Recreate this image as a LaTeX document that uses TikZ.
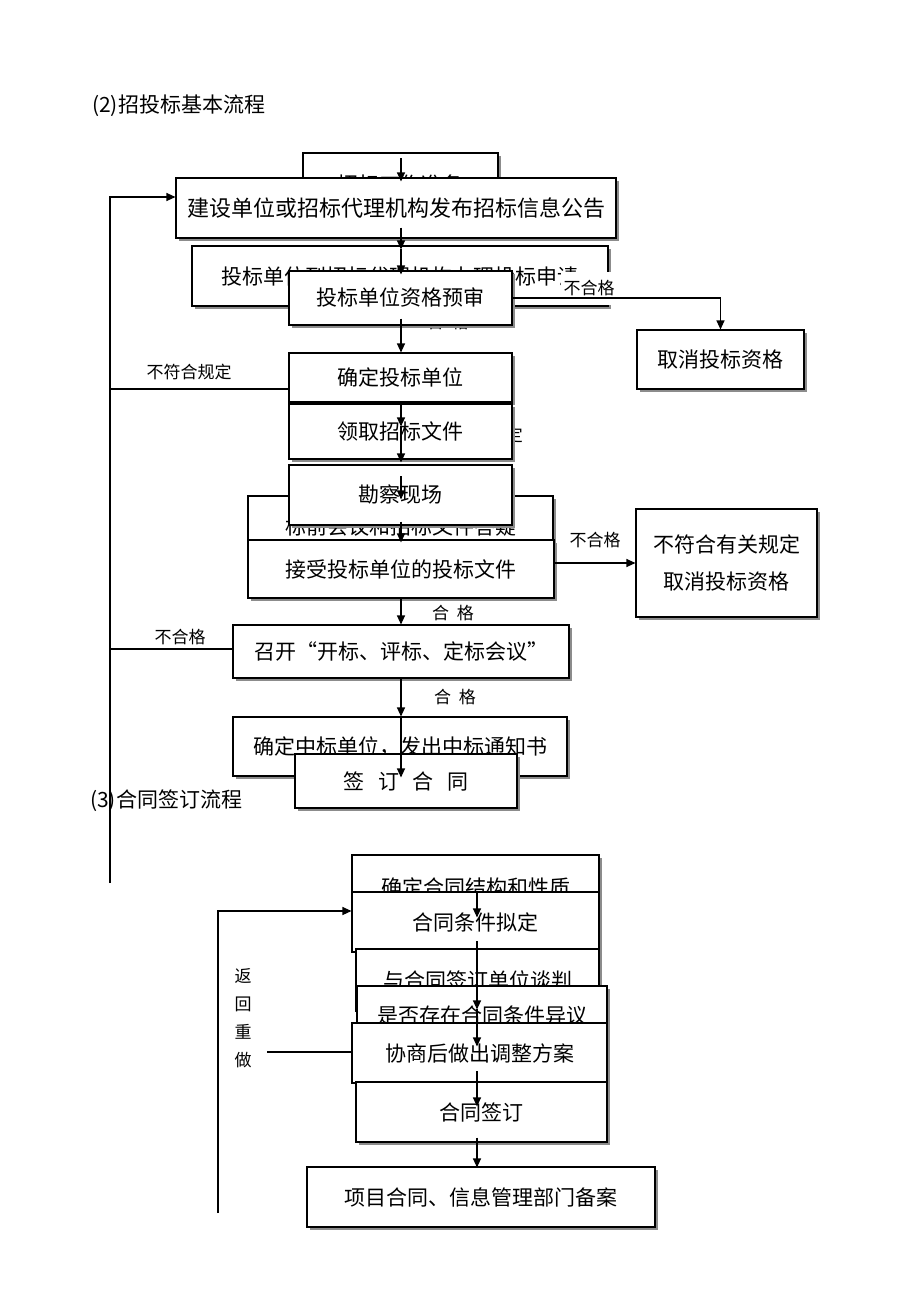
\documentclass[tikz,border=0pt]{standalone}
\usepackage{fontspec}
\setmainfont{Noto Sans CJK SC}
\usetikzlibrary{arrows.meta,shadows}
\tikzset{
  box/.style={draw, fill=white, line width=1.1pt, inner sep=0pt,
    general shadow={fill=black!45, shadow xshift=2.5pt, shadow yshift=-2.5pt},
    font=\fontsize{21}{21}\selectfont},
  lbl/.style={inner sep=1pt, font=\fontsize{17}{17}\selectfont},
  ttl/.style={inner sep=0pt, anchor=west, font=\fontsize{21}{21}\selectfont},
  arr/.style={line width=1.1pt, -{Triangle[length=9pt,width=8pt]}},
  ln/.style={line width=1.1pt}
}
\begin{document}
\begin{tikzpicture}[x=1pt,y=-1pt]
    \useasboundingbox (0,0) rectangle (920,1302);
    \coordinate (spA) at (401,0);
    \coordinate (spB) at (477,0);

    % (2) bidding
    \node[ttl] (t2) at (92,106) {(2)招投标基本流程};
    \node[box, minimum width=195pt, minimum height=62pt] at (400.5,184) (b1) {招标工作准备};
    \node[box, minimum width=440pt, minimum height=60pt, font=\fontsize{22}{22}\selectfont] at (396,208) (b2) {建设单位或招标代理机构发布招标信息公告};
    \node[box, minimum width=416pt, minimum height=60pt] at (400,276)   (b3) {投标单位到招标代理机构办理投标申请};
    \node[lbl, fill=white, minimum width=56pt, minimum height=33pt] at (589,288.5) (ng1) {不合格};
    \node[lbl] at (448,322) (ok0) {合\hspace{0.45em}格};
    \node[box, minimum width=223pt, minimum height=54pt, text depth=3pt] at (400.5,298) (b4) {投标单位资格预审};
    \node[box, minimum width=167pt, minimum height=59pt] at (720.5,359.5) (c1) {取消投标资格};
    \node[box, minimum width=223pt, minimum height=49pt] at (400.5,377.5) (b6) {确定投标单位};
    \node[lbl] at (189,372) (ng2) {不符合规定};
    \node[lbl, anchor=east] at (524,435) (ng3) {不符合规定};
    \node[box, minimum width=223pt, minimum height=55pt] at (400.5,431.5) (b7) {领取招标文件};
    \node[box, minimum width=305pt, minimum height=62pt] at (400.5,527) (b9) {标前会议和招标文件答疑};
    \node[box, minimum width=223pt, minimum height=60pt] at (400.5,495) (b8) {勘察现场};
    \node[box, minimum width=306pt, minimum height=58pt] at (401,569)   (b10) {接受投标单位的投标文件};
    \node[box, minimum width=181pt, minimum height=108pt, align=center,
          font=\fontsize{21}{37}\selectfont] at (726.5,563) (c2) {不符合有关规定\\取消投标资格};
    \node[lbl] at (595,540) (ng4) {不合格};
    \node[lbl] at (453,613) (ok1) {合\hspace{0.45em}格};
    \node[lbl] at (180,637) (ng5) {不合格};
    \node[box, minimum width=336pt, minimum height=53pt] at (401,651.5) (b11) {召开“开标、评标、定标会议”};
    \node[lbl] at (455,697) (ok2) {合\hspace{0.45em}格};
    \node[box, minimum width=334pt, minimum height=59pt] at (400,746.5) (b12) {确定中标单位，发出中标通知书};
    \node[box, minimum width=222pt, minimum height=54pt] at (406,781)   (b13) {签\hspace{0.65em}订\hspace{0.65em}合\hspace{0.65em}同};

    % (3) contract
    \node[ttl] (t3) at (90,801) {(3)合同签订流程};
    \node[box, minimum width=247pt, minimum height=64pt] at (475.5,887) (b14) {确定合同结构和性质};
    \node[box, minimum width=247pt, minimum height=60pt] at (475.5,922) (b15) {合同条件拟定};
    \node[box, minimum width=243pt, minimum height=62pt] at (477.5,980) (b16) {与合同签订单位谈判};
    \node[box, minimum width=250pt, minimum height=60pt] at (482,1016)  (b17) {是否存在合同条件异议};
    \node[box, minimum width=255pt, minimum height=60pt] at (479.5,1053) (b18) {协商后做出调整方案};
    \node[box, minimum width=251pt, minimum height=60pt] at (481.5,1112) (b19) {合同签订};
    \node[box, minimum width=348pt, minimum height=60pt] at (481,1197)  (b20) {项目合同、信息管理部门备案};
    \node[lbl, align=center, font=\fontsize{17}{28}\selectfont] at (243,1018.5) (redo) {返\\回\\重\\做};

    % connectors
    \draw[arr, shorten <=6pt, shorten >=-4pt]   (spA |- b1.north) -- (spA |- b2.north);
    \draw[arr, shorten <=-11pt, shorten >=-4pt] (spA |- b2.south) -- (spA |- b3.north);
    \draw[arr, shorten <=4pt, shorten >=-4pt]   (spA |- b3.north) -- (spA |- b4.north);
    \draw[arr, shorten <=-7pt]                  (spA |- b4.south) -- (spA |- b6.north);
    \draw[arr, shorten >=-23pt]                 (spA |- b6.south) -- (spA |- b7.north);
    \draw[arr, shorten <=23pt, shorten >=2pt]   (spA |- b7.north) -- (spA |- b8.north);
    \draw[arr, shorten <=12pt, shorten >=-4pt]  (spA |- b8.north) -- (spA |- b9.north);
    \draw[arr, shorten <=-4pt, shorten >=-3pt]  (spA |- b8.south) -- (spA |- b10.north);
    \draw[arr] (spA |- b10.south) -- (spA |- b11.north);
    \draw[arr] (spA |- b11.south) -- (spA |- b12.north);
    \draw[arr, shorten >=-24pt] (spA |- b12.north) -- (spA |- b13.north);
    \draw[arr] (b4.east) -| (c1.north);
    \draw[arr] (b10.east |- c2.west) -- (c2.west);

    \coordinate (ret1) at (110,883);
    \coordinate (brA) at (110,389);
    \coordinate (brB) at (110,649);
    \draw[arr] (ret1) |- ([yshift=11pt]b2.west);
    \draw[ln] ([yshift=-11.5pt]b6.west) -- (brA);
    \draw[ln] ([yshift=2.5pt]b11.west) -- (brB);

    \draw[arr, shorten <=37pt, shorten >=-26pt] (spB |- b14.north) -- (spB |- b15.north);
    \draw[arr, shorten <=50pt, shorten >=-24pt] (spB |- b15.north) -- (spB |- b17.north);
    \draw[arr, shorten <=24pt, shorten >=-24pt] (spB |- b17.north) -- (spB |- b18.north);
    \draw[arr, shorten <=49pt, shorten >=-25pt] (spB |- b18.north) -- (spB |- b19.north);
    \draw[arr, shorten <=-5pt, shorten >=-1pt]  (spB |- b19.south) -- (spB |- b20.north);

    \coordinate (ret2) at (218,1213);
    \coordinate (rw) at (267,1052);
    \draw[arr] (ret2) |- ([yshift=11pt]b15.west);
    \draw[ln] (rw) -- ([yshift=1pt]b18.west);
\end{tikzpicture}
\end{document}
